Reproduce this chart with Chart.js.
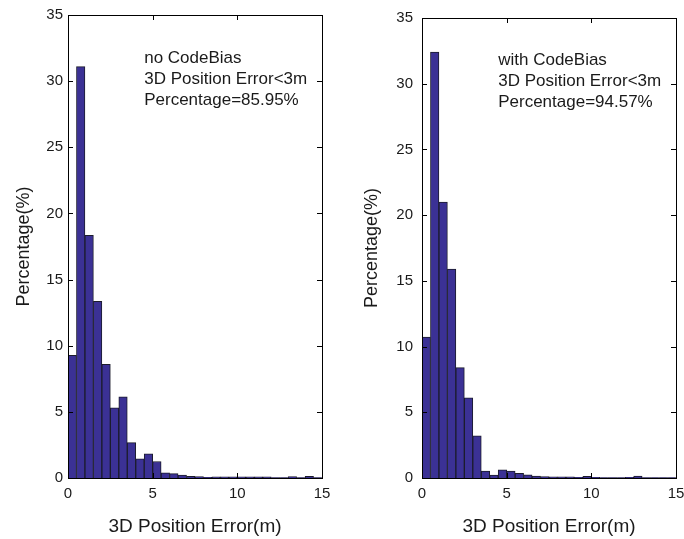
<!DOCTYPE html>
<html>
<head>
<meta charset="utf-8">
<script src="https://cdn.jsdelivr.net/npm/chart.js@4.4.1/dist/chart.umd.min.js"></script>
<style>
  html, body { margin: 0; padding: 0; background: #fff; overflow: hidden; }
  #wrap { position: relative; width: 684px; height: 539px; overflow: hidden; }
  #left { position: absolute; left: 0; top: 0; }
  #right { position: absolute; left: 342px; top: 0; }
</style>
</head>
<body>
<div id="wrap">
  <canvas id="left" width="342" height="539"></canvas>
  <canvas id="right" width="360" height="539"></canvas>
</div>
<script>
// histogram bins (m), 0.5 m wide
const binCenters = [0.25,0.75,1.25,1.75,2.25,2.75,3.25,3.75,4.25,4.75,
                    5.25,5.75,6.25,6.75,7.25,7.75,8.25,8.75,9.25,9.75,
                    10.25,10.75,11.25,11.75,12.25,12.75,13.25,13.75,14.25,14.75];

// percentage per bin
const noBias = [9.27,31.1,18.35,13.36,8.6,5.31,6.14,2.68,1.45,1.83,
                1.25,0.4,0.33,0.22,0.12,0.1,0.05,0.08,0.08,0.08,
                0.08,0.08,0.08,0.08,0.04,0.04,0.1,0.04,0.12,0.04];
const withBias = [10.73,32.4,21.0,15.9,8.4,6.1,3.2,0.52,0.22,0.62,
                  0.52,0.35,0.25,0.15,0.1,0.08,0.08,0.08,0.05,0.12,
                  0.05,0.03,0.03,0.03,0.05,0.15,0.03,0.03,0.03,0.03];

const xTicks = [0,5,10,15];
const yTicks = [0,5,10,15,20,25,30,35];

const noBiasNote = ["no CodeBias", "3D Position Error<3m", "Percentage=85.95%"];
const withBiasNote = ["with CodeBias", "3D Position Error<3m", "Percentage=94.57%"];

const FONT = "'Liberation Sans', Arial, Helvetica, sans-serif";
const TXT = "#1a1a1a";

// matlab style box with inward ticks + text block
const boxPlugin = {
  id: "matBox",
  afterDraw(chart, args, opts) {
    const ctx = chart.ctx;
    const a = chart.chartArea;
    const xs = chart.scales.x, ys = chart.scales.y;
    const len = 5;
    ctx.save();
    ctx.strokeStyle = "#000";
    ctx.lineWidth = 1;
    ctx.strokeRect(Math.round(a.left) + 0.5, Math.round(a.top) + 0.5,
                   Math.round(a.right - a.left), Math.round(a.bottom - a.top));
    ctx.beginPath();
    xTicks.forEach(v => {
      const px = Math.round(xs.getPixelForValue(v)) + 0.5;
      ctx.moveTo(px, a.bottom); ctx.lineTo(px, a.bottom - len);
      ctx.moveTo(px, a.top); ctx.lineTo(px, a.top + len);
    });
    yTicks.forEach(v => {
      const py = Math.round(ys.getPixelForValue(v)) + 0.5;
      ctx.moveTo(a.left, py); ctx.lineTo(a.left + len, py);
      ctx.moveTo(a.right, py); ctx.lineTo(a.right - len, py);
    });
    ctx.stroke();

    if (opts.lines) {
      ctx.fillStyle = TXT;
      ctx.font = "17px " + FONT;
      ctx.textBaseline = "middle";
      ctx.textAlign = "left";
      const x0 = xs.getPixelForValue(opts.x);
      const y0 = ys.getPixelForValue(opts.y);
      opts.lines.forEach((t, i) => ctx.fillText(t, x0, y0 + i * 21));
    }
    ctx.restore();
  }
};

function makeChart(id, values, note, lay) {
  return new Chart(document.getElementById(id), {
    type: "bar",
    data: {
      datasets: [{
        data: binCenters.map((c, i) => ({x: c, y: values[i]})),
        backgroundColor: "#3b3195",
        borderColor: "#1c1c2c",
        borderWidth: 1,
        barPercentage: 1,
        categoryPercentage: 1
      }]
    },
    options: {
      responsive: false,
      animation: false,
      layout: { padding: { left: lay.padLeft, right: lay.padRight, top: 15, bottom: 0 } },
      plugins: {
        legend: { display: false },
        tooltip: { enabled: false },
        matBox: { lines: note, x: 4.5, y: 31.75 }
      },
      scales: {
        x: {
          type: "linear",
          offset: false,
          min: 0, max: 15,
          afterFit: s => { s.height = 61; },
          afterBuildTicks: s => { s.ticks = xTicks.map(v => ({value: v})); },
          grid: { display: false, drawTicks: false },
          border: { display: false },
          ticks: { padding: 7, color: TXT, font: { family: FONT, size: 15 }, maxRotation: 0 },
          title: { display: true, text: "3D Position Error(m)", color: TXT,
                   font: { family: FONT, size: 19 }, padding: { top: 0, bottom: 1 } }
        },
        y: {
          min: 0, max: 35,
          afterFit: s => { s.width = lay.yWidth; },
          afterBuildTicks: s => { s.ticks = yTicks.map(v => ({value: v})); },
          grid: { display: false, drawTicks: false },
          border: { display: false },
          ticks: { padding: lay.tickPad, color: TXT, font: { family: FONT, size: 15 } },
          title: { display: true, text: "Percentage(%)", color: TXT,
                   font: { family: FONT, size: 18 }, padding: { top: 4, bottom: 0 } }
        }
      }
    },
    plugins: [boxPlugin]
  });
}

makeChart("left", noBias, noBiasNote, { padLeft: 9, padRight: 20, yWidth: 59, tickPad: 5 });
makeChart("right", withBias, withBiasNote, { padLeft: 15, padRight: 26, yWidth: 65, tickPad: 9 });
</script>
</body>
</html>
